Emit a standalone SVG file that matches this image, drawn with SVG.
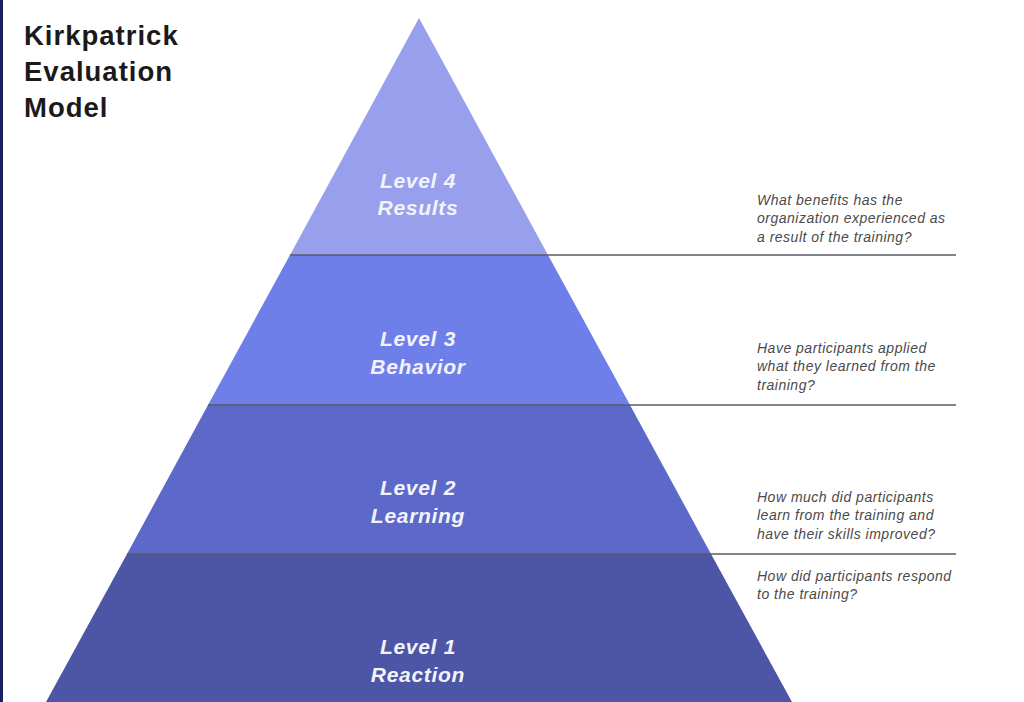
<svg xmlns="http://www.w3.org/2000/svg" width="1024" height="702" viewBox="0 0 1024 702">
<style>
.title{font-family:"Liberation Sans",Arial,sans-serif;font-weight:bold;font-size:27.5px;letter-spacing:1px;fill:#1a1a1a}
.lvl{font-family:"Liberation Sans",Arial,sans-serif;font-weight:bold;font-style:italic;font-size:21px;letter-spacing:0.7px;fill:#f2f3fb;text-anchor:middle}
.q{font-family:"Liberation Sans",Arial,sans-serif;font-style:italic;font-size:14px;letter-spacing:0.5px;fill:#4a4a4a}
.sep{stroke:#5a5a66;stroke-width:1.5}
</style>
<rect width="1024" height="702" fill="#ffffff"/>
<rect x="0" y="0" width="3" height="702" fill="#1c2060"/>
<g id="title">
<text class="title" x="24" y="45">Kirkpatrick</text>
<text class="title" x="24" y="81">Evaluation</text>
<text class="title" x="24" y="117">Model</text>
</g>
<g id="level4">
<polygon points="419,18 548,255 290,255" fill="#98a0ee"/>
<text class="lvl" x="418" y="188">Level 4</text>
<text class="lvl" x="418" y="215">Results</text>
</g>
<g id="level3">
<polygon points="290,255 548,255 630,405 208,405" fill="#6e7fea"/>
<text class="lvl" x="418" y="346">Level 3</text>
<text class="lvl" x="418" y="374">Behavior</text>
</g>
<g id="level2">
<polygon points="208,405 630,405 711,554 127,554" fill="#5d69c9"/>
<text class="lvl" x="418" y="495">Level 2</text>
<text class="lvl" x="418" y="523">Learning</text>
</g>
<g id="level1">
<polygon points="127,554 711,554 792,702 46,702" fill="#4c55a6"/>
<text class="lvl" x="418" y="654">Level 1</text>
<text class="lvl" x="418" y="682">Reaction</text>
</g>
<g id="connectors">
<line class="sep" x1="290" y1="255" x2="956" y2="255"/>
<line class="sep" x1="208" y1="405" x2="956" y2="405"/>
<line class="sep" x1="127" y1="554" x2="956" y2="554"/>
</g>
<g id="q4">
<text class="q" x="757" y="205">What benefits has the</text>
<text class="q" x="757" y="223">organization experienced as</text>
<text class="q" x="757" y="242">a result of the training?</text>
</g>
<g id="q3">
<text class="q" x="757" y="353">Have participants applied</text>
<text class="q" x="757" y="371">what they learned from the</text>
<text class="q" x="757" y="390">training?</text>
</g>
<g id="q2">
<text class="q" x="757" y="502">How much did participants</text>
<text class="q" x="757" y="520">learn from the training and</text>
<text class="q" x="757" y="539">have their skills improved?</text>
</g>
<g id="q1">
<text class="q" x="757" y="581">How did participants respond</text>
<text class="q" x="757" y="599">to the training?</text>
</g>
</svg>
